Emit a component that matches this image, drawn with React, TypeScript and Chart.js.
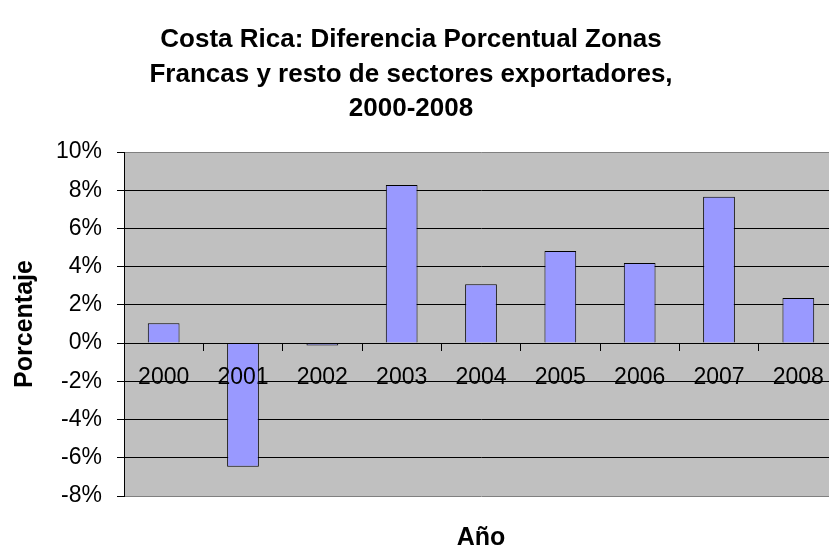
import React, { useEffect, useRef } from "react";
import { Chart, registerables } from "chart.js";

Chart.register(...registerables);

const categories = ["2000", "2001", "2002", "2003", "2004", "2005", "2006", "2007", "2008"];
const diferencia = [1.04, -6.47, -0.12, 8.27, 3.08, 4.82, 4.19, 7.66, 2.36];
const yTicks = { min: -8, max: 10, step: 2 };
const titleLines = [
  "Costa Rica: Diferencia Porcentual Zonas",
  "Francas y resto de sectores exportadores,",
  "2000-2008",
];
const yTitle = "Porcentaje";
const xTitle = "Año";

const FONT = "'Liberation Sans', Arial, Helvetica, sans-serif";
const CANVAS_W = 866;
const CANVAS_H = 549;

const plotBackground = {
  id: "plotBackground",
  beforeDraw(chart: any) {
    const { ctx, chartArea } = chart;
    if (!chartArea) return;
    ctx.save();
    ctx.fillStyle = "#C0C0C0";
    ctx.fillRect(chartArea.left, chartArea.top, chartArea.right - chartArea.left, chartArea.bottom - chartArea.top);
    ctx.restore();
  },
};

export default function App() {
  const ref = useRef<HTMLCanvasElement | null>(null);

  useEffect(() => {
    if (!ref.current) return;
    const chart = new Chart(ref.current, {
      type: "bar",
      data: {
        labels: categories,
        datasets: [
          {
            label: "Diferencia",
            data: diferencia,
            backgroundColor: "#9999FF",
            borderColor: "#000000",
            borderWidth: 1,
            barPercentage: 0.4,
            categoryPercentage: 1.0,
            xAxisID: "x",
            yAxisID: "y",
          },
        ],
      },
      plugins: [plotBackground],
      options: {
        responsive: false,
        animation: false,
        devicePixelRatio: 1,
        layout: { padding: { left: 0, right: 12, top: 0, bottom: 0 } },
        plugins: {
          legend: { display: false },
          tooltip: { enabled: false },
          title: {
            display: true,
            text: titleLines,
            color: "#000",
            font: { family: FONT, size: 26, weight: "bold", lineHeight: 1.327 },
            padding: { top: 23, bottom: 25.5 },
          },
        },
        scales: {
          x: {
            type: "category",
            position: { y: 0 } as any,
            offset: true,
            grid: {
              display: true,
              drawOnChartArea: false,
              drawTicks: true,
              tickLength: 7,
              color: "#000",
              offset: true,
              z: 1,
            },
            border: { display: true, color: "#000", width: 1, z: 1 },
            ticks: {
              color: "#000",
              font: { family: FONT, size: 23 },
              padding: 14,
              maxRotation: 0,
              minRotation: 0,
              autoSkip: false,
              z: 1,
            },
          },
          x2: {
            type: "category",
            position: "bottom",
            grid: { display: false, drawTicks: false },
            border: { display: false },
            ticks: { display: false },
            title: {
              display: true,
              text: xTitle,
              color: "#000",
              font: { family: FONT, size: 25, weight: "bold", lineHeight: 1 },
              padding: { top: 30, bottom: -2 },
            },
          },
          y: {
            type: "linear",
            position: "left",
            min: yTicks.min,
            max: yTicks.max,
            afterFit: (s: any) => {
              s.width = 140;
            },
            grid: {
              color: (c: any) =>
                c.tick && (c.tick.value === yTicks.max || c.tick.value === yTicks.min) ? "#808080" : "#000",
              tickColor: "#000",
              tickLength: 7,
              drawTicks: true,
            },
            border: { display: true, color: "#000", width: 1 },
            ticks: {
              stepSize: yTicks.step,
              color: "#000",
              font: { family: FONT, size: 23 },
              padding: 15,
              callback: (v: any) => `${v}%`,
            },
            title: {
              display: true,
              text: yTitle,
              color: "#000",
              font: { family: FONT, size: 25, weight: "bold", lineHeight: 1 },
              padding: { top: 28.5, bottom: 0 },
            },
          },
        },
      } as any,
    });
    return () => chart.destroy();
  }, []);

  return (
    <div
      style={{
        position: "fixed",
        left: 0,
        top: 0,
        width: 829,
        height: 549,
        overflow: "hidden",
        background: "#fff",
      }}
    >
      <div style={{ position: "absolute", left: -16, top: 0, width: CANVAS_W, height: CANVAS_H }}>
        <canvas ref={ref} width={CANVAS_W} height={CANVAS_H} style={{ display: "block" }} />
      </div>
    </div>
  );
}
